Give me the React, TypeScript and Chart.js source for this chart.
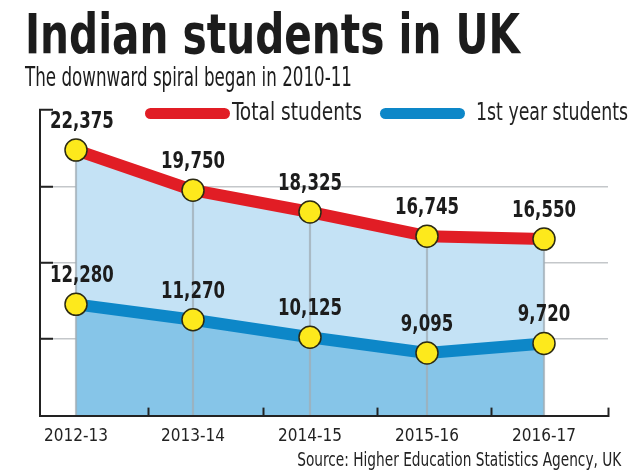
import React, { useEffect, useLayoutEffect, useRef } from "react";
import { Chart, registerables } from "chart.js";

Chart.register(...registerables);

// ---- data ----
const categories = ["2012-13", "2013-14", "2014-15", "2015-16", "2016-17"];
const totalStudents = [22375, 19750, 18325, 16745, 16550];
const firstYearStudents = [12280, 11270, 10125, 9095, 9720];
const seriesNames = ["Total students", "1st year students"];
const yMin = 5000;
const yMax = 25000;
const yStep = 5000;
// positions (in category units) of the small tick marks on the x axis
const xTickMarks = [0.62, 1.6, 2.58, 3.55, 4.547];

const title = "Indian students in UK";
const subtitle = "The downward spiral began in 2010-11";
const source = "Source: Higher Education Statistics Agency, UK";

// ---- style ----
const NARROW = "'Liberation Sans Narrow', 'DejaVu Sans Condensed', sans-serif";
const RED = "#e11d25";
const BLUE = "#0d87c8";
const FILL_LIGHT = "#c4e2f5";
const FILL_MID = "#86c5e8";
const YELLOW = "#fde91c";
const INK = "#1c1c1c";
const TRANSPARENT = "rgba(0,0,0,0)";
const LABEL_SQUEEZE = 0.8;

const valueLabels = {
  id: "valueLabels",
  afterDatasetsDraw(chart: any) {
    const ctx = chart.ctx;
    chart.data.datasets.forEach((ds: any, di: number) => {
      if (ds.type !== "line") return;
      const meta = chart.getDatasetMeta(di);
      meta.data.forEach((el: any, i: number) => {
        const v = ds.data[i].y as number;
        const text = v.toLocaleString("en-US");
        ctx.save();
        ctx.font = `bold 23px ${NARROW}`;
        ctx.fillStyle = INK;
        ctx.textAlign = "center";
        ctx.textBaseline = "alphabetic";
        const w = ctx.measureText(text).width * LABEL_SQUEEZE;
        const x = Math.max(el.x, chart.chartArea.left + 10 + w / 2);
        ctx.translate(x, el.y - 22);
        ctx.scale(LABEL_SQUEEZE, 1);
        ctx.fillText(text, 0, 0);
        ctx.restore();
      });
    });
  },
};

function FitText(props: {
  text: string;
  width: number;
  left?: number;
  right?: number;
  top: number;
  style: React.CSSProperties;
}) {
  const ref = useRef<HTMLDivElement | null>(null);
  useLayoutEffect(() => {
    const el = ref.current;
    if (!el) return;
    el.style.transform = "none";
    const w = el.getBoundingClientRect().width;
    if (w > 0) el.style.transform = `scaleX(${props.width / w})`;
  }, [props.text, props.width]);
  return (
    <div
      ref={ref}
      style={{
        position: "absolute",
        left: props.left,
        right: props.right,
        top: props.top,
        whiteSpace: "nowrap",
        lineHeight: 1,
        transformOrigin: props.right !== undefined ? "right top" : "left top",
        ...props.style,
      }}
    >
      {props.text}
    </div>
  );
}

export default function App() {
  const canvasRef = useRef<HTMLCanvasElement | null>(null);

  useEffect(() => {
    document.body.style.margin = "0";
    document.body.style.overflow = "hidden";
    const canvas = canvasRef.current;
    if (!canvas) return;

    const toPoints = (arr: number[]) => arr.map((y, i) => ({ x: i, y }));

    const chart = new Chart(canvas, {
      type: "line",
      data: {
        datasets: [
          {
            type: "bar",
            label: "guides",
            data: toPoints(totalStudents),
            backgroundColor: "rgba(160,172,180,0.75)",
            barThickness: 1.5,
            order: 3,
          } as any,
          {
            type: "line",
            label: seriesNames[0],
            data: toPoints(totalStudents),
            borderColor: RED,
            borderWidth: 12,
            borderJoinStyle: "round",
            backgroundColor: FILL_LIGHT,
            fill: "start",
            tension: 0,
            pointRadius: 11,
            pointBackgroundColor: YELLOW,
            pointBorderColor: "#2b2a14",
            pointBorderWidth: 1.5,
            clip: false,
            order: 2,
          } as any,
          {
            type: "line",
            label: seriesNames[1],
            data: toPoints(firstYearStudents),
            borderColor: BLUE,
            borderWidth: 12,
            borderJoinStyle: "round",
            backgroundColor: FILL_MID,
            fill: "start",
            tension: 0,
            pointRadius: 11,
            pointBackgroundColor: YELLOW,
            pointBorderColor: "#2b2a14",
            pointBorderWidth: 1.5,
            clip: false,
            order: 1,
          } as any,
        ],
      },
      options: {
        animation: false,
        responsive: false,
        devicePixelRatio: 1,
        events: [],
        layout: { padding: { left: 40, top: 110, right: 32, bottom: 6 } },
        plugins: {
          legend: { display: false },
          title: { display: false },
          tooltip: { enabled: false },
          filler: { drawTime: "beforeDatasetsDraw" },
        } as any,
        scales: {
          x: {
            type: "linear",
            offset: false,
            min: -0.3077,
            max: 4.547,
            afterBuildTicks: (scale: any) => {
              const vals = [...categories.map((_, i) => i), ...xTickMarks].sort((a, b) => a - b);
              scale.ticks = vals.map((value) => ({ value }));
            },
            ticks: {
              autoSkip: false,
              maxRotation: 0,
              minRotation: 0,
              padding: 19,
              color: "#222",
              font: { family: NARROW, size: 17 },
              callback: (value: any) =>
                Number.isInteger(value) ? categories[value as number] : "",
            },
            grid: {
              z: 1,
              offset: false,
              drawOnChartArea: false,
              drawTicks: true,
              tickLength: -8,
              tickWidth: 2,
              tickColor: (c: any) =>
                Number.isInteger(c.tick?.value) ? TRANSPARENT : "#222",
            },
            border: { display: true, color: "#222", width: 2, z: 1 },
          },
          y: {
            type: "linear",
            min: yMin,
            max: yMax,
            afterFit: (scale: any) => {
              scale.width = 0;
            },
            ticks: { display: false, stepSize: yStep },
            grid: {
              drawOnChartArea: true,
              drawTicks: true,
              tickLength: -13,
              tickWidth: 2,
              lineWidth: 1.5,
              color: (c: any) =>
                c.tick && c.tick.value > yMin && c.tick.value < yMax
                  ? "#c4c7ca"
                  : TRANSPARENT,
              tickColor: (c: any) =>
                c.tick && c.tick.value > yMin ? "#222" : TRANSPARENT,
            },
            border: { display: true, color: "#222", width: 2 },
          },
        },
      } as any,
      plugins: [valueLabels],
    });

    return () => chart.destroy();
  }, []);

  const legendColors = [RED, BLUE];
  const legendSwatchLeft = [145, 380];
  const legendTextLeft = [232, 476];
  const legendTextWidth = [130, 152];

  return (
    <div
      style={{
        position: "fixed",
        left: 0,
        top: 0,
        width: 640,
        height: 472,
        background: "#fff",
        overflow: "hidden",
      }}
    >
      <canvas
        ref={canvasRef}
        width={640}
        height={472}
        style={{ position: "absolute", left: 0, top: 0, width: 640, height: 472 }}
      />
      <FitText
        text={title}
        left={25}
        top={7}
        width={495}
        style={{ fontFamily: NARROW, fontWeight: 700, fontSize: 55, color: INK }}
      />
      <FitText
        text={subtitle}
        left={25}
        top={63}
        width={327}
        style={{ fontFamily: NARROW, fontSize: 27, color: INK }}
      />
      {seriesNames.map((name, i) => (
        <React.Fragment key={name}>
          <div
            style={{
              position: "absolute",
              left: legendSwatchLeft[i],
              top: 108,
              width: 85,
              height: 11,
              borderRadius: 6,
              background: legendColors[i],
            }}
          />
          <FitText
            text={name}
            left={legendTextLeft[i]}
            top={99}
            width={legendTextWidth[i]}
            style={{ fontFamily: NARROW, fontSize: 25, color: "#222" }}
          />
        </React.Fragment>
      ))}
      <FitText
        text={source}
        right={19}
        top={450}
        width={324}
        style={{ fontFamily: NARROW, fontSize: 19, color: "#222" }}
      />
    </div>
  );
}
